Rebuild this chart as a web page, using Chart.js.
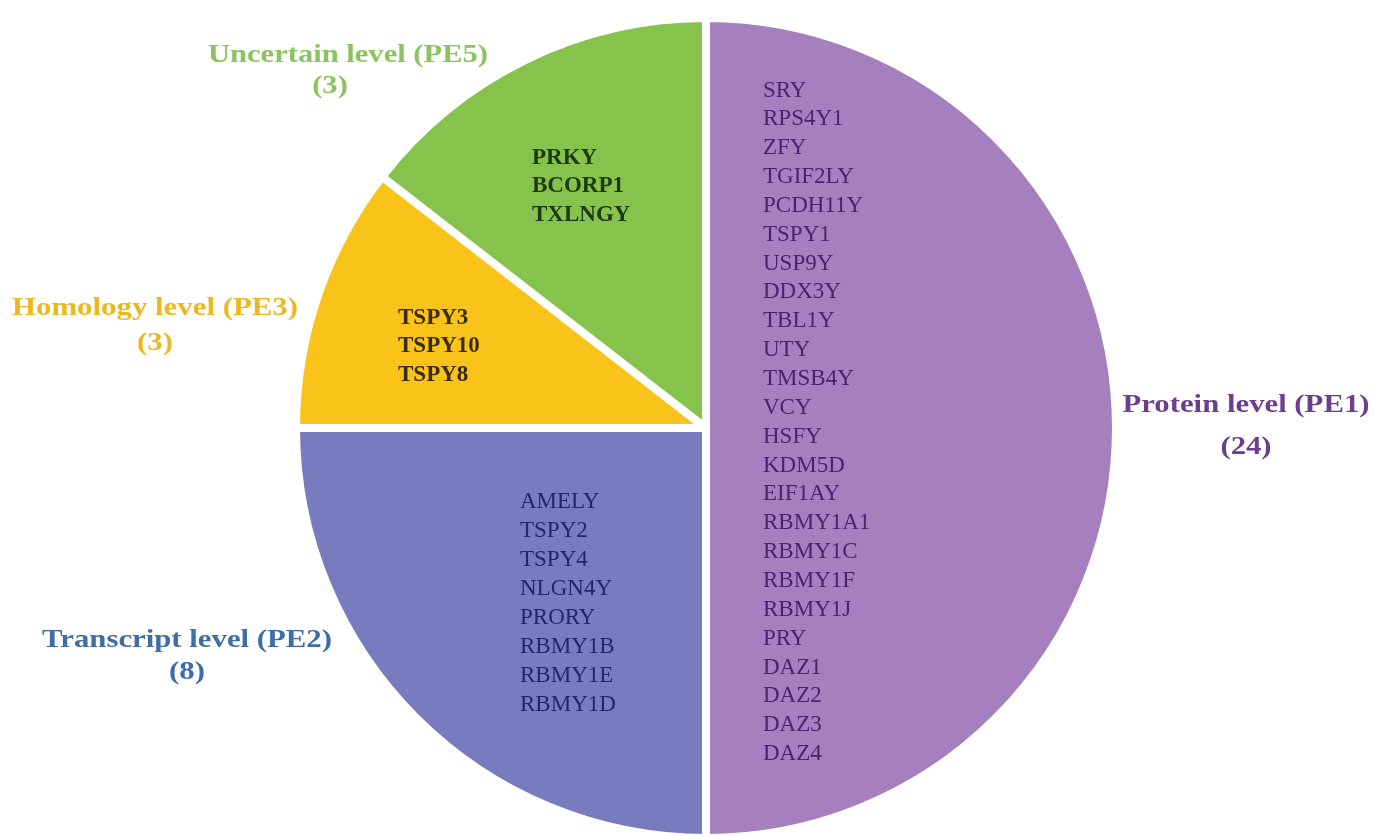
<!DOCTYPE html>
<html>
<head>
<meta charset="utf-8">
<script src="https://cdn.jsdelivr.net/npm/chart.js@4/dist/chart.umd.min.js"></script>
<style>
  html, body { margin: 0; padding: 0; background: #ffffff; overflow: hidden; }
  #wrap { position: relative; width: 1374px; height: 860px; }
</style>
</head>
<body>
<div id="wrap"><canvas id="c" width="1374" height="860"></canvas></div>
<script>
// ---- data ----
const categories = ['Protein level (PE1)', 'Transcript level (PE2)', 'Homology level (PE3)', 'Uncertain level (PE5)'];
const geneCounts = [24, 8, 3, 3];
// slice sizes as drawn in the reference (percent of the full circle)
const sliceShares = [50, 25, 10.5, 14.5];
const proteinGenes = ['SRY','RPS4Y1','ZFY','TGIF2LY','PCDH11Y','TSPY1','USP9Y','DDX3Y','TBL1Y','UTY','TMSB4Y','VCY','HSFY','KDM5D','EIF1AY','RBMY1A1','RBMY1C','RBMY1F','RBMY1J','PRY','DAZ1','DAZ2','DAZ3','DAZ4'];
const transcriptGenes = ['AMELY','TSPY2','TSPY4','NLGN4Y','PRORY','RBMY1B','RBMY1E','RBMY1D'];
const homologyGenes = ['TSPY3','TSPY10','TSPY8'];
const uncertainGenes = ['PRKY','BCORP1','TXLNGY'];
const geneLists = [proteinGenes, transcriptGenes, homologyGenes, uncertainGenes];

// ---- styling / layout ----
const sliceColors = ['#A67FBE', '#787BBD', '#F9C31A', '#85C34C'];
const geneTextColors = ['#4A2270', '#1F2868', '#3A2C06', '#1E3A12'];
const geneFonts = ['normal 23px "Liberation Serif"', 'normal 23px "Liberation Serif"', 'bold 23px "Liberation Serif"', 'bold 23px "Liberation Serif"'];
const geneLayout = [
  { x: 763, y: 90.5, step: 28.85 },
  { x: 520, y: 502, step: 29 },
  { x: 398, y: 318, step: 28.5 },
  { x: 532, y: 158, step: 28.5 }
];
const outerColors = ['#6B3F8E', '#3F6DA6', '#EDB720', '#8CC35E'];
const outerLayout = [
  { x: 1246, y1: 405, y2: 447, w: 247 },
  { x: 187, y1: 640, y2: 672, w: 290 },
  { x: 155, y1: 308, y2: 343, w: 286 },
  { x: 348, y1: 55, y2: 86, w: 280, x2: 330 }
];

const labelPlugin = {
  id: 'labels',
  afterDatasetsDraw(chart) {
    const ctx = chart.ctx;
    ctx.save();
    ctx.textBaseline = 'middle';
    // gene lists inside the slices
    geneLists.forEach((list, i) => {
      const L = geneLayout[i];
      ctx.font = geneFonts[i];
      ctx.fillStyle = geneTextColors[i];
      ctx.textAlign = 'left';
      list.forEach((g, k) => ctx.fillText(g, L.x, L.y + k * L.step));
    });
    // category labels outside the pie
    categories.forEach((name, i) => {
      const L = outerLayout[i];
      ctx.fillStyle = outerColors[i];
      ctx.font = 'bold 26px "Liberation Serif"';
      ctx.textAlign = 'center';
      const m = ctx.measureText(name).width;
      const sx = L.w / m;
      ctx.save();
      ctx.translate(L.x, L.y1);
      ctx.scale(sx, 1);
      ctx.fillText(name, 0, 0);
      ctx.restore();
      ctx.save();
      ctx.translate(L.x2 !== undefined ? L.x2 : L.x, L.y2);
      ctx.scale(sx, 1);
      ctx.fillText('(' + geneCounts[i] + ')', 0, 0);
      ctx.restore();
    });
    ctx.restore();
  }
};

new Chart(document.getElementById('c'), {
  type: 'pie',
  data: {
    labels: categories,
    datasets: [{
      data: sliceShares,
      backgroundColor: sliceColors,
      borderColor: '#ffffff',
      borderWidth: 8,
      hoverBorderWidth: 8,
      borderJoinStyle: 'round',
      radius: 410
    }]
  },
  options: {
    responsive: false,
    animation: false,
    events: [],
    layout: { padding: { top: 0, bottom: 4, left: 38, right: 0 } },
    plugins: {
      legend: { display: false },
      tooltip: { enabled: false },
      title: { display: false }
    }
  },
  plugins: [labelPlugin]
});
</script>
</body>
</html>
